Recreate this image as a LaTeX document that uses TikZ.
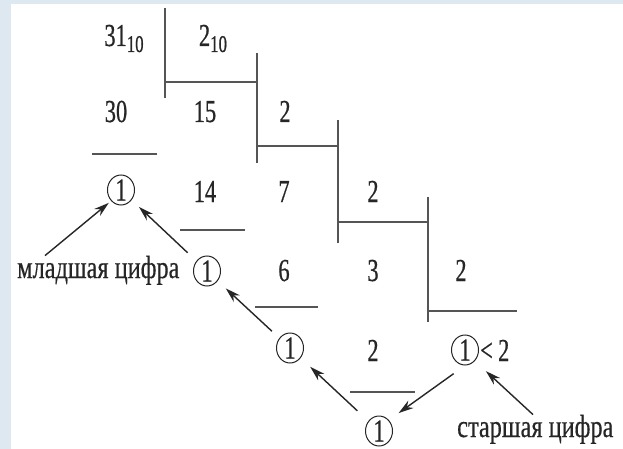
\documentclass[tikz,border=0pt]{standalone}
\usepackage{fontspec}
\setmainfont{Liberation Serif}[FakeStretch=0.70,FakeBold=0.6]
\newfontfamily\wordfont{Liberation Serif}[FakeStretch=0.76,FakeBold=0.4]
\usetikzlibrary{arrows.meta,shapes.geometric}
\definecolor{edgebg}{HTML}{DDE8F0}
\definecolor{ink}{HTML}{262626}
\definecolor{rulegray}{HTML}{555555}
\newcommand\radix[1]{\raisebox{-6pt}{\fontsize{24}{26}\selectfont #1}}
\tikzset{
  num/.style={text=ink,font=\fontsize{32}{34}\selectfont,inner sep=0pt},
  word/.style={num,font=\fontsize{32}{34}\selectfont\wordfont},
  ring/.style={num,ellipse,draw=ink,line width=1pt,minimum width=27pt,minimum height=30pt},
  bar/.style={rulegray,line width=1.4pt},
  arr/.style={->,ink,line width=1.4pt},
}
\begin{document}
\begin{tikzpicture}[x=1pt,y=-1pt,>={Stealth[length=15pt,width=9pt]}]
  \useasboundingbox (0,0) rectangle (623,449);
  \fill[edgebg] (0,0) rectangle (623,449);
  \fill[white] (11,4) rectangle (623,449);

  % division corners
  \draw[bar] (165,8) -- (165,98);
  \draw[bar] (165,82) -- (257,82);
  \draw[bar] (257,53) -- (257,163);
  \draw[bar] (257,146) -- (338,146);
  \draw[bar] (338,120) -- (338,243);
  \draw[bar] (338,222) -- (428,222);
  \draw[bar] (428,197) -- (428,322);
  \draw[bar] (428,311) -- (517,311);

  % subtraction bars
  \draw[bar] (92,154) -- (157,154);
  \draw[bar] (180,230) -- (245,230);
  \draw[bar] (255,307) -- (318,307);
  \draw[bar] (350,392) -- (415,392);

  \foreach \nm/\x/\y/\lab in {
    n31/124/46/31\radix{10},
    n2a/213/46/2\radix{10},
    n30/116/122/30,
    n15/205/122/15,
    n2b/285/122/2,
    n14/205/202/14,
    n7/284/202/7,
    n2c/373/202/2,
    n6/284/281/6,
    n3/373/281/3,
    n2d/461/281/2,
    n2e/373/361/2
  }
  {
    \node[num,anchor=base] (\nm) at (\x,\y) {\lab};
  }

  \node[ring] (c1) at (121,190) {1};
  \node[ring] (c2) at (207,271) {1};
  \node[ring] (c3) at (290,348) {1};
  \node[ring] (c5) at (465,350) {1};
  \node[ring] (c6) at (379,431) {1};
  \node[num,anchor=base west] (lt) at (480,361) {<\,2};

  \node[word,anchor=base west] (mlad) at (17,278) {младшая цифра};
  \node[word,anchor=base west] (star) at (457,437) {старшая цифра};

  \draw[arr,shorten >=3pt] ([xshift=28pt]mlad.north west) -- (c1.south west);
  \draw[arr,shorten <=12pt,shorten >=10pt] (c2) -- (c1);
  \draw[arr,shorten <=10pt,shorten >=11pt] (c3) -- (c2);
  \draw[arr,shorten <=15pt,shorten >=13pt] (c6) -- (c3);
  \draw[arr,shorten <=14pt,shorten >=12pt] (c5.south) -- (c6.north east);
  \draw[arr,shorten >=15pt] ([xshift=76pt]star.north west) -- (c5.south east);
\end{tikzpicture}
\end{document}
